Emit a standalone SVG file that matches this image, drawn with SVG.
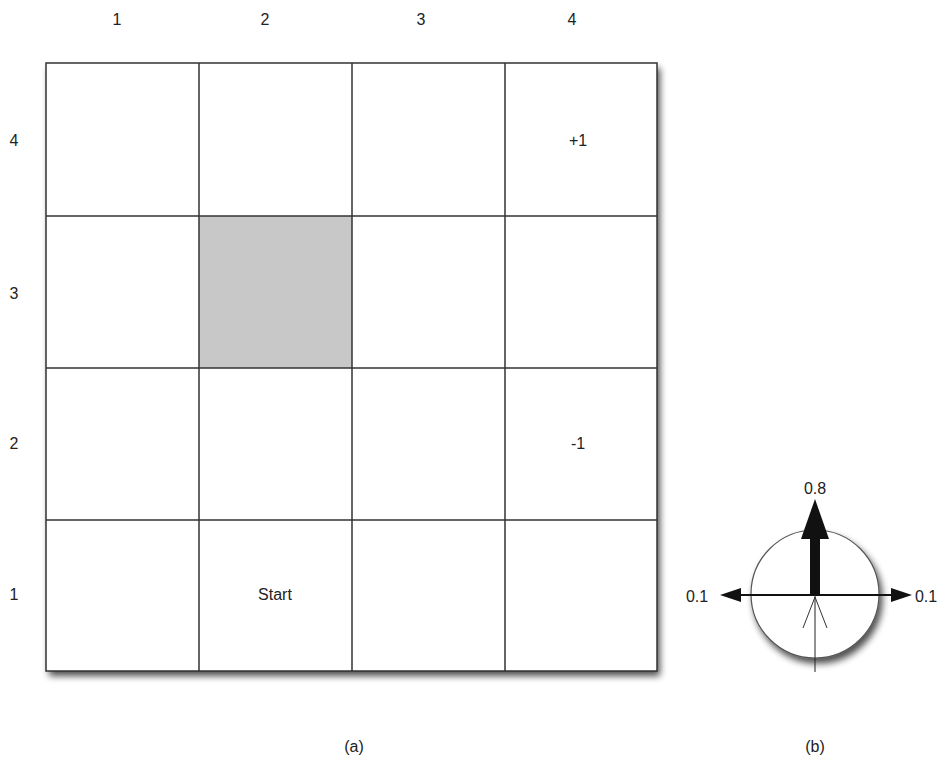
<svg xmlns="http://www.w3.org/2000/svg" width="940" height="763" viewBox="0 0 940 763">
<defs>
<filter id="sh" x="-10%" y="-10%" width="130%" height="130%">
<feGaussianBlur in="SourceAlpha" stdDeviation="3.5"/>
<feOffset dx="3" dy="5" result="b"/>
<feComponentTransfer><feFuncA type="linear" slope="0.7"/></feComponentTransfer>
<feMerge><feMergeNode/><feMergeNode in="SourceGraphic"/></feMerge>
</filter>
<style>
text{font-family:"Liberation Sans",Arial,sans-serif;font-size:16px;fill:#222;text-anchor:middle;dominant-baseline:central}
.g{stroke:#333;stroke-width:1.5;fill:none}
</style>
</defs>
<rect width="940" height="763" fill="#fff"/>
<g id="grid">
<rect x="46" y="63" width="611" height="608" fill="#fff" filter="url(#sh)"/>
<rect x="199" y="216" width="153" height="152" fill="#c8c8c8"/>
<path class="g" d="M46 63H657V671H46Z M199 63V671 M352 63V671 M505 63V671 M46 216H657 M46 368H657 M46 520H657"/>
</g>
<g id="labels">
<text x="117" y="19">1</text>
<text x="265" y="19">2</text>
<text x="421" y="19">3</text>
<text x="572" y="19">4</text>
<text x="14" y="140">4</text>
<text x="14" y="293">3</text>
<text x="14" y="443">2</text>
<text x="14" y="594">1</text>
<text x="578" y="140">+1</text>
<text x="578" y="443">-1</text>
<text x="275" y="594">Start</text>
<text x="354" y="746">(a)</text>
<text x="815" y="746">(b)</text>
</g>
<g id="compass">
<circle cx="815" cy="594" r="64" fill="#fff" stroke="#555" stroke-width="1.2" filter="url(#sh)"/>
<g id="connectors">
<line x1="738" y1="595" x2="893" y2="595" stroke="#111" stroke-width="2"/>
<polygon points="720,595 741,588 741,602" fill="#111"/>
<polygon points="912,595 891,588 891,602" fill="#111"/>
<rect x="810" y="536" width="10" height="60" fill="#111"/>
<polygon points="815,499 829,539 801,539" fill="#111"/>
<line x1="815" y1="595" x2="815" y2="672" stroke="#222" stroke-width="1"/>
<path d="M803 628L815 597L827 628" fill="none" stroke="#333" stroke-width="1"/>
</g>
<text x="815" y="488">0.8</text>
<text x="697" y="596">0.1</text>
<text x="926" y="596">0.1</text>
</g>
</svg>
